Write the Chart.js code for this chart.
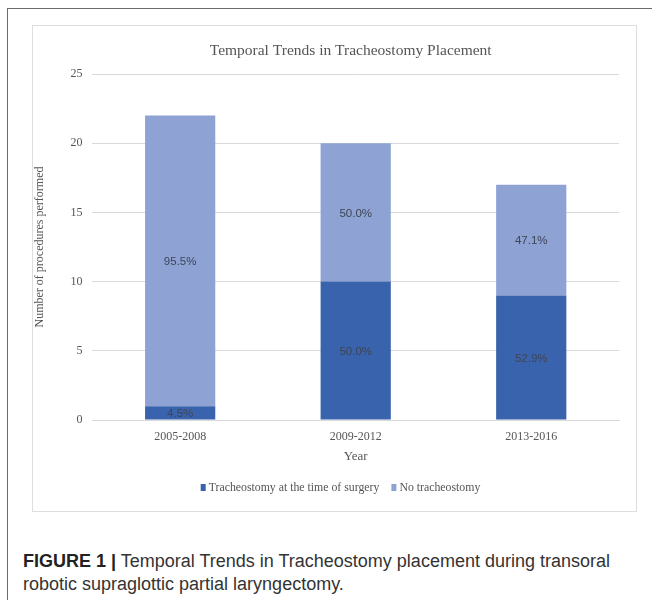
<!DOCTYPE html>
<html>
<head>
<meta charset="utf-8">
<script src="https://cdn.jsdelivr.net/npm/chart.js@4"></script>
<style>
  body { margin: 0; background: #fff; }
  #frame {
    position: absolute; left: 7px; top: 8px; width: 650px; height: 600px;
    border-left: 1.5px solid #6b6b6b; border-top: 1.5px solid #6b6b6b;
  }
  #box {
    position: absolute; left: 32px; top: 25px; width: 605px; height: 487px;
    border: 1px solid #dedede; box-sizing: border-box;
  }
  #caption {
    position: absolute; left: 23px; top: 550px; width: 625px;
    font-family: "Liberation Sans", Arial, sans-serif; font-size: 18px;
    line-height: 23px; color: #333;
  }
  #caption b { color: #222; }
</style>
</head>
<body>
<div id="frame"></div>
<div id="box"><canvas id="chart"></canvas></div>
<div id="caption"><b>FIGURE 1 |</b> Temporal Trends in Tracheostomy placement during transoral robotic supraglottic partial laryngectomy.</div>
<script>
// Data
var years = ["2005-2008", "2009-2012", "2013-2016"];
var tracheostomy = [1, 10, 9];
var noTracheostomy = [21, 10, 8];
var yTicks = [0, 5, 10, 15, 20, 25];
var chartTitle = "Temporal Trends in Tracheostomy Placement";

var darkBlue = "#3a63ad";
var lightBlue = "#8ea2d4";
var textGray = "#555";
var serif = "'Liberation Serif', 'Times New Roman', serif";

// Percent labels in the middle of each segment
var percentLabels = {
  id: "percentLabels",
  afterDatasetsDraw: function (chart) {
    var ctx = chart.ctx;
    ctx.save();
    ctx.font = "11.5px 'Liberation Sans', Arial, sans-serif";
    ctx.fillStyle = "#3d4556";
    ctx.textAlign = "center";
    ctx.textBaseline = "middle";
    chart.data.datasets.forEach(function (ds, di) {
      var meta = chart.getDatasetMeta(di);
      meta.data.forEach(function (bar, i) {
        var total = tracheostomy[i] + noTracheostomy[i];
        var pct = (ds.data[i] / total * 100).toFixed(1) + "%";
        ctx.fillText(pct, bar.x, (bar.y + bar.base) / 2 + 1);
      });
    });
    ctx.restore();
  },
};

// Title and legend placed like the spreadsheet chart (off the canvas centre)
var titleAndLegend = {
  id: "titleAndLegend",
  afterDraw: function (chart) {
    var ctx = chart.ctx;
    var area = chart.chartArea;
    ctx.save();
    ctx.fillStyle = textGray;
    ctx.textBaseline = "middle";
    ctx.textAlign = "center";
    ctx.font = "15.5px " + serif;
    ctx.fillText(chartTitle, (area.left + area.right) / 2 - 5, 25);

    // legend
    ctx.font = "11.8px " + serif;
    ctx.textAlign = "left";
    var items = chart.data.datasets.map(function (ds) {
      return { text: ds.label, color: ds.backgroundColor, w: ctx.measureText(ds.label).width };
    });
    var box = 5, gap = 3, spacing = 12;
    var total = 0;
    items.forEach(function (it, i) {
      total += box + gap + it.w + (i > 0 ? spacing : 0);
    });
    var x = chart.width / 2 + 6 - total / 2;
    var y = 462;
    items.forEach(function (it, i) {
      if (i > 0) x += spacing;
      ctx.fillStyle = it.color;
      ctx.fillRect(x, y - 4, box, 7);
      x += box + gap;
      ctx.fillStyle = textGray;
      ctx.fillText(it.text, x, y);
      x += it.w;
    });
    ctx.restore();
  },
};

var ctx = document.getElementById("chart").getContext("2d");
var chart = new Chart(ctx, {
  type: "bar",
  data: {
    labels: years,
    datasets: [
      {
        label: "Tracheostomy at the time of surgery",
        data: tracheostomy,
        backgroundColor: darkBlue,
        categoryPercentage: 1,
        barPercentage: 0.4,
      },
      {
        label: "No tracheostomy",
        data: noTracheostomy,
        backgroundColor: lightBlue,
        categoryPercentage: 1,
        barPercentage: 0.4,
      },
    ],
  },
  options: {
    responsive: true,
    maintainAspectRatio: false,
    animation: false,
    layout: { padding: { left: 0, right: 17, top: 48, bottom: 47 } },
    plugins: {
      title: { display: false },
      legend: { display: false },
      tooltip: { enabled: false },
    },
    scales: {
      x: {
        stacked: true,
        grid: { display: false },
        border: { color: "#d9d9d9" },
        ticks: { color: textGray, font: { family: serif, size: 12 }, padding: 2 },
        title: {
          display: true,
          text: "Year",
          color: textGray,
          font: { family: serif, size: 13 },
          padding: { top: 2, bottom: 0 },
        },
      },
      y: {
        stacked: true,
        min: 0,
        max: 25,
        afterBuildTicks: function (axis) {
          axis.ticks = yTicks.map(function (v) { return { value: v }; });
        },
        grid: { color: "#d9d9d9", drawTicks: false },
        border: { display: false },
        ticks: { color: textGray, font: { family: serif, size: 12 }, padding: 10 },
        title: {
          display: true,
          text: "Number of procedures performed",
          color: textGray,
          font: { family: serif, size: 12 },
          padding: { top: 0, bottom: 13 },
        },
      },
    },
  },
  plugins: [percentLabels, titleAndLegend],
});
</script>
</body>
</html>
